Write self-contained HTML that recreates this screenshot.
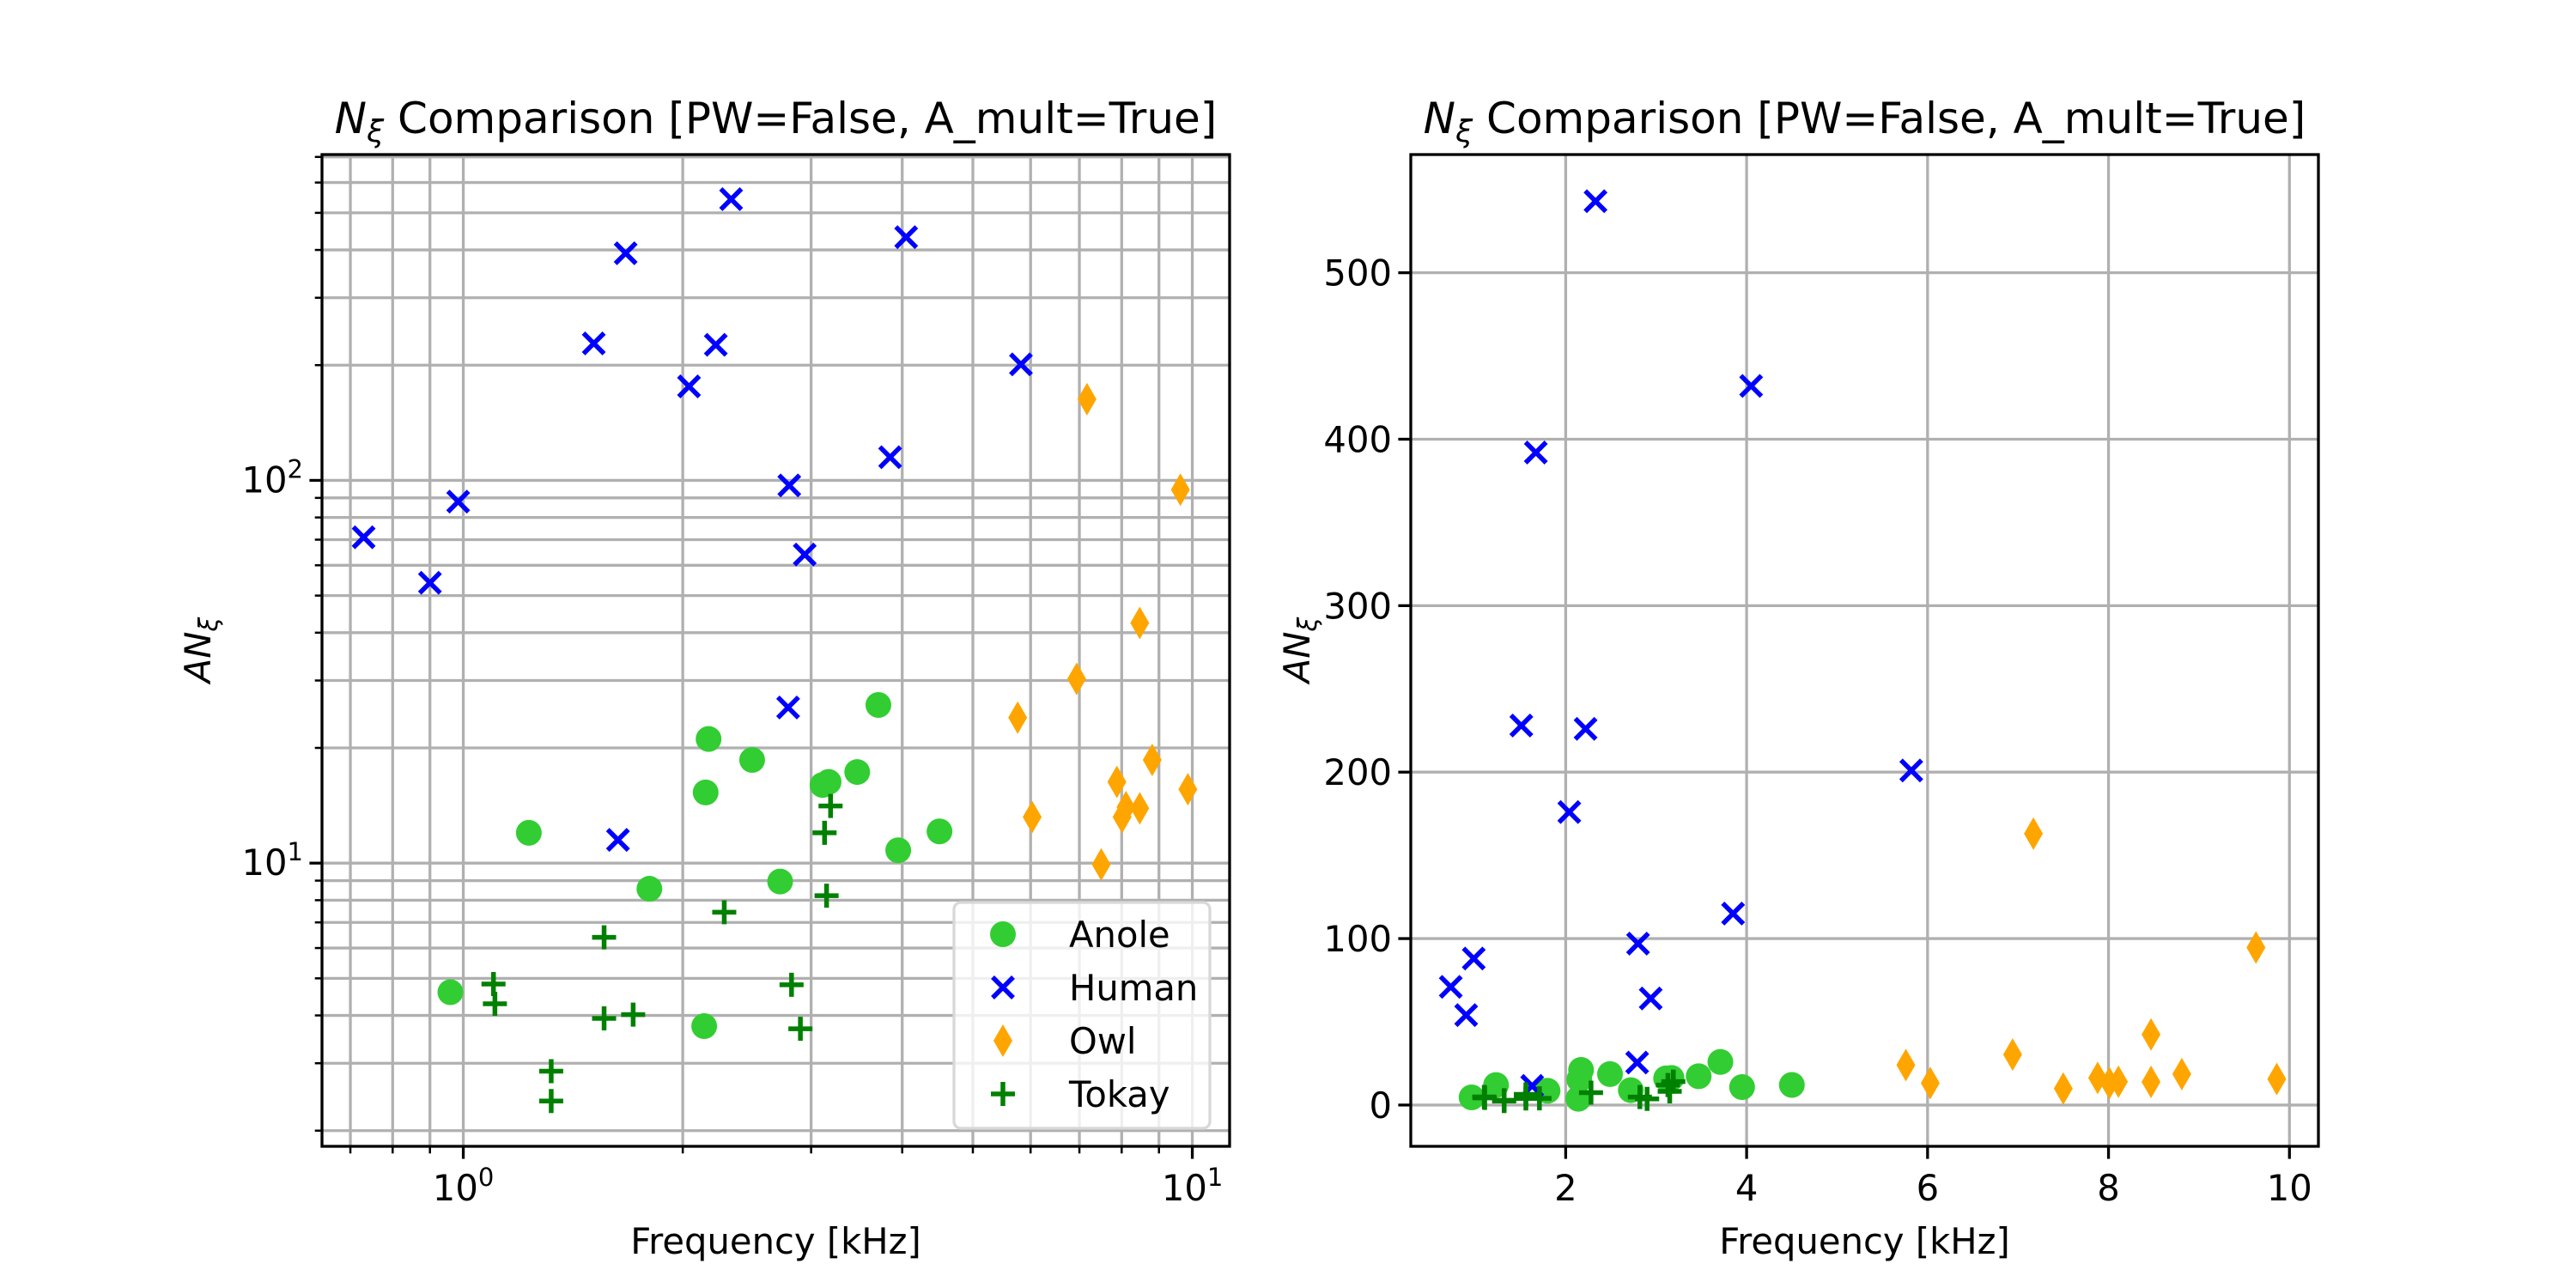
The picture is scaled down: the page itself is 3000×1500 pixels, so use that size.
<!DOCTYPE html>
<html><head><meta charset="utf-8"><title>N_xi Comparison</title>
<style>html,body{margin:0;padding:0;background:#fff}svg{display:block;font-family:"DejaVu Sans","Liberation Sans",sans-serif}</style>
</head><body>
<svg id="fig" width="3000" height="1500" viewBox="0 0 3000 1500" xmlns="http://www.w3.org/2000/svg">
<rect width="3000" height="1500" fill="#fff"/>
</svg>
<script>
const anoleX=[0.96,1.23,1.80,2.17,2.15,2.14,2.49,2.72,3.11,3.17,3.47,3.71,3.95,4.50];
const anoleY=[4.6,12.0,8.57,21.1,15.3,3.75,18.6,8.95,16.0,16.3,17.3,25.9,10.8,12.1];
const humanX=[0.73,0.90,0.984,1.51,1.67,1.63,2.04,2.22,2.33,2.80,2.79,2.94,3.85,4.05,5.82];
const humanY=[71,54,88,228,392,11.5,176,226,543,97,25.5,64,115,432,201];
const owlX=[5.76,6.03,6.94,7.17,7.50,7.88,8.01,8.11,8.47,8.47,8.81,9.63,9.86];
const owlY=[24.0,13.2,30.3,163,9.92,16.3,13.2,14.0,13.9,42.4,18.6,94.6,15.6];
const tokayX=[1.10,1.105,1.32,1.32,1.56,1.56,1.71,2.28,2.82,2.90,3.13,3.19,3.15];
const tokayY=[4.83,4.29,2.86,2.39,6.40,3.93,4.02,7.44,4.81,3.69,12.0,14.1,8.22];
const linXTicks=[2,4,6,8,10];
const linYTicks=[0,100,200,300,400,500];
const seriesNames=["Anole","Human","Owl","Tokay"];

const NS="http://www.w3.org/2000/svg";
const svg=document.getElementById('fig');
function el(tag,attrs,parent,text){const e=document.createElementNS(NS,tag);for(const k in attrs)e.setAttribute(k,attrs[k]);if(text!==undefined)e.textContent=text;(parent||svg).appendChild(e);return e;}
const FS=41.7;
const GRID="#b0b0b0";
function marker(g,kind,cx,cy){
  let m;
  if(kind==="Anole"){m=el('circle',{cx:cx,cy:cy,r:15,fill:'#32cd32'},g);}
  else if(kind==="Human"){const d=12;m=el('path',{d:`M${cx-d},${cy-d}L${cx+d},${cy+d}M${cx-d},${cy+d}L${cx+d},${cy-d}`,stroke:'#0000ff','stroke-width':5.5,fill:'none'},g);}
  else if(kind==="Owl"){m=el('path',{d:`M${cx},${cy-19}L${cx+11},${cy}L${cx},${cy+19}L${cx-11},${cy}Z`,fill:'#ffa500'},g);}
  else {const d=14;m=el('path',{d:`M${cx-d},${cy}L${cx+d},${cy}M${cx},${cy-d}L${cx},${cy+d}`,stroke:'#008000','stroke-width':5.5,fill:'none'},g);}
  
  
  return m;
}
function drawSeries(g,sx,sy){
  const sets=[["Anole",anoleX,anoleY],["Human",humanX,humanY],["Owl",owlX,owlY],["Tokay",tokayX,tokayY]];
  for(const [n,xs,ys] of sets){
    const sg=el('g',{},g);
    
    
    for(let i=0;i<xs.length;i++)marker(sg,n,sx(xs[i]),sy(ys[i]));
  }
}
function title(cx){
  const t=el('text',{x:cx,y:155,'font-size':50,'text-anchor':'middle'});
  
  
  el('tspan',{'font-style':'italic'},t,'N');
  el('tspan',{'font-style':'italic','font-size':36,dy:10},t,'ξ');
  el('tspan',{dy:-10},t,' Comparison [PW=False, A_mult=True]');
}
function axisLabels(cx,lx){
  const xl=el('text',{x:cx,y:1460,'font-size':FS,'text-anchor':'middle'},svg,'Frequency [kHz]');
  
  
  const yl=el('text',{x:0,y:0,'font-size':FS,'text-anchor':'middle',transform:`translate(${lx},757) rotate(-90)`});
  
  
  el('tspan',{'font-style':'italic'},yl,'AN');
  el('tspan',{'font-style':'italic','font-size':30,dy:8},yl,'ξ');
}

/* ---- Left: log-log ---- */
(function(){
  const L=375,R=1432,T=180,B=1335;
  const xl0=Math.log10(0.64),xl1=Math.log10(11.25),yl0=Math.log10(1.82),yl1=Math.log10(710);
  const sx=v=>L+(Math.log10(v)-xl0)/(xl1-xl0)*(R-L);
  const sy=v=>B-(Math.log10(v)-yl0)/(yl1-yl0)*(B-T);
  const g=el('g',{});
  
  
  const grid=el('g',{},g);
  
  
  const ticks=el('g',{},g);
  const xs=[];for(const d of [0.1,1,10])for(let k=1;k<10;k++){const v=k*d;if(v>=0.64&&v<=11.25)xs.push([v,k===1]);}
  const ys=[];for(const d of [1,10,100])for(let k=1;k<10;k++){const v=k*d;if(v>=1.82&&v<=710)ys.push([v,k===1]);}
  for(const [v,maj] of xs){const x=sx(v);el('line',{x1:x,x2:x,y1:T,y2:B,stroke:GRID,'stroke-width':3.3},grid);
    el('line',{x1:x,x2:x,y1:B,y2:B+(maj?14.6:8.3),stroke:'#000','stroke-width':maj?3.3:2.5},ticks);
    if(maj){const e=Math.round(Math.log10(v));const t=el('text',{x:x,y:1398,'font-size':FS,'text-anchor':'middle'},ticks);
      
      el('tspan',{},t,'10');el('tspan',{'font-size':29,dy:-17},t,String(e));}}
  for(const [v,maj] of ys){const y=sy(v);el('line',{x1:L,x2:R,y1:y,y2:y,stroke:GRID,'stroke-width':3.3},grid);
    el('line',{x1:L,x2:L-(maj?14.6:8.3),y1:y,y2:y,stroke:'#000','stroke-width':maj?3.3:2.5},ticks);
    if(maj){const e=Math.round(Math.log10(v));const t=el('text',{x:L-22,y:y+14,'font-size':FS,'text-anchor':'end'},ticks);
      
      el('tspan',{},t,'10');el('tspan',{'font-size':29,dy:-17},t,String(e));}}
  drawSeries(g,sx,sy);
  el('rect',{x:L,y:T,width:R-L,height:B-T,fill:'none',stroke:'#000','stroke-width':3.3},g);
  // legend
  const lg=el('g',{},g);
  
  
  el('rect',{x:1111,y:1051,width:298,height:263,rx:8,fill:'#fff','fill-opacity':0.8,stroke:'#d8d8d8','stroke-width':3.3},lg);
  const ly=[1088,1150,1212,1274];
  seriesNames.forEach((n,i)=>{
    const eg=el('g',{},lg);
    
    
    marker(eg,n,1168,ly[i]);
    el('text',{x:1245,y:ly[i]+15,'font-size':FS},eg,n);
  });
  title((L+R)/2); axisLabels((L+R)/2,245);
})();

/* ---- Right: linear ---- */
(function(){
  const L=1643,R=2700,T=180,B=1335;
  const x0=0.288,x1=10.32,y0=-24.8,y1=571;
  const sx=v=>L+(v-x0)/(x1-x0)*(R-L);
  const sy=v=>B-(v-y0)/(y1-y0)*(B-T);
  const g=el('g',{});
  
  
  const grid=el('g',{},g);
  
  
  for(const v of linXTicks){const x=sx(v);el('line',{x1:x,x2:x,y1:T,y2:B,stroke:GRID,'stroke-width':3.3},grid);
    el('line',{x1:x,x2:x,y1:B,y2:B+14.6,stroke:'#000','stroke-width':3.3},g);
    const t=el('text',{x:x,y:1398,'font-size':FS,'text-anchor':'middle'},g,String(v));
    }
  for(const v of linYTicks){const y=sy(v);el('line',{x1:L,x2:R,y1:y,y2:y,stroke:GRID,'stroke-width':3.3},grid);
    el('line',{x1:L,x2:L-14.6,y1:y,y2:y,stroke:'#000','stroke-width':3.3},g);
    const t=el('text',{x:L-22,y:y+15,'font-size':FS,'text-anchor':'end'},g,String(v));
    }
  drawSeries(g,sx,sy);
  el('rect',{x:L,y:T,width:R-L,height:B-T,fill:'none',stroke:'#000','stroke-width':3.3},g);
  title((L+R)/2); axisLabels((L+R)/2,1525);
})();
</script>
</body></html>
